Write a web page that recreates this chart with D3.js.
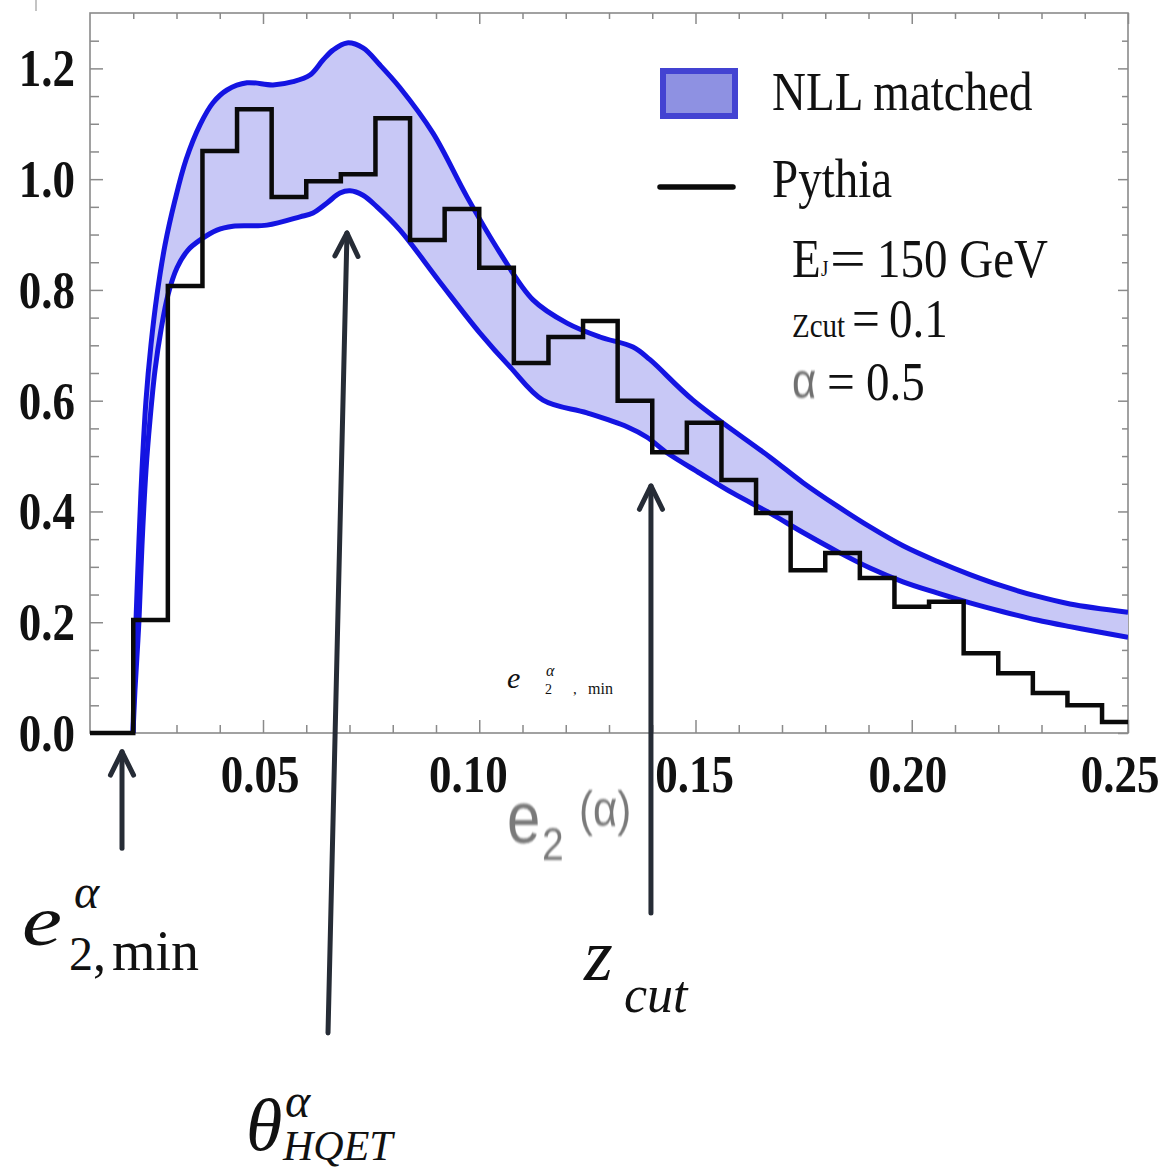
<!DOCTYPE html>
<html>
<head>
<meta charset="utf-8">
<script src="https://cdn.jsdelivr.net/npm/d3@7"></script>
<style>
  html, body { margin: 0; padding: 0; background: #ffffff; }
  svg { display: block; }
</style>
</head>
<body>
<svg id="chart" width="1169" height="1173"></svg>
<script>
// ---------------- DATA ----------------
// Pythia histogram: bin left edges and heights (last bin clipped at 0.25)
const binEdges = [0.020, 0.028, 0.036, 0.044, 0.052, 0.060, 0.068, 0.076, 0.084, 0.092,
                  0.100, 0.108, 0.116, 0.124, 0.132, 0.140, 0.148, 0.156, 0.164, 0.172,
                  0.180, 0.188, 0.196, 0.204, 0.212, 0.220, 0.228, 0.236, 0.244];
const pythia   = [0.204, 0.807, 1.051, 1.126, 0.968, 0.996, 1.009, 1.110, 0.890, 0.946,
                  0.840, 0.668, 0.715, 0.744, 0.600, 0.507, 0.560, 0.457, 0.397, 0.294,
                  0.325, 0.280, 0.228, 0.237, 0.144, 0.108, 0.072, 0.050, 0.020];

// NLL matched band: upper edge
const upperX = [0.01994, 0.02017, 0.02064, 0.02133, 0.02202, 0.02295, 0.0241, 0.02549, 0.02734,
                0.02965, 0.0322, 0.03543, 0.03844, 0.04168, 0.0463, 0.05231, 0.05694, 0.06087,
                0.06387, 0.06618, 0.06942, 0.07312, 0.07705, 0.08168, 0.0893, 0.09717, 0.1048,
                0.11243, 0.12029, 0.12792, 0.13555, 0.13948, 0.14942, 0.16723, 0.17486, 0.18272,
                0.19035, 0.19798, 0.20584, 0.21347, 0.2211, 0.22896, 0.23659, 0.25];
const upperY = [0.000, 0.078, 0.204, 0.349, 0.475, 0.601, 0.701, 0.791, 0.881,
                0.962, 1.035, 1.098, 1.138, 1.161, 1.174, 1.170, 1.176, 1.188,
                1.215, 1.233, 1.246, 1.237, 1.206, 1.165, 1.083, 0.968, 0.867,
                0.782, 0.740, 0.715, 0.697, 0.674, 0.601, 0.498, 0.452, 0.410,
                0.372, 0.338, 0.310, 0.286, 0.265, 0.247, 0.233, 0.218];
// NLL matched band: lower edge
const lowerX = [0.01994, 0.0204, 0.02133, 0.02202, 0.02295, 0.02387, 0.02503, 0.02642, 0.02803,
                0.03012, 0.03266, 0.03543, 0.03936, 0.04306, 0.05092, 0.05855, 0.06156, 0.0648,
                0.0678, 0.07012, 0.07312, 0.07636, 0.08168, 0.09092, 0.10017, 0.10711, 0.11474,
                0.12491, 0.13416, 0.13879, 0.14341, 0.15104, 0.15867, 0.16723, 0.17486, 0.18272,
                0.19035, 0.19798, 0.20584, 0.21347, 0.2211, 0.22896, 0.23659, 0.24422, 0.25];
const lowerY = [0.000, 0.078, 0.204, 0.339, 0.475, 0.565, 0.655, 0.728, 0.791,
                0.840, 0.872, 0.890, 0.908, 0.915, 0.917, 0.932, 0.939, 0.957,
                0.975, 0.979, 0.971, 0.950, 0.908, 0.814, 0.722, 0.661, 0.601,
                0.578, 0.553, 0.534, 0.506, 0.469, 0.433, 0.397, 0.362, 0.328,
                0.298, 0.273, 0.253, 0.235, 0.219, 0.204, 0.192, 0.181, 0.173];

// Axis ticks
const xMajorTicks = [0.05, 0.10, 0.15, 0.20, 0.25];
const xTickLabels = ["0.05", "0.10", "0.15", "0.20", "0.25"];
const xMinorTicks = [0.02, 0.03, 0.04, 0.06, 0.07, 0.08, 0.09, 0.11, 0.12, 0.13, 0.14,
                     0.16, 0.17, 0.18, 0.19, 0.21, 0.22, 0.23, 0.24];
const yMajorTicks = [0.0, 0.2, 0.4, 0.6, 0.8, 1.0, 1.2];
const yTickLabels = ["0.0", "0.2", "0.4", "0.6", "0.8", "1.0", "1.2"];
const yMinorTicks = [0.05, 0.10, 0.15, 0.25, 0.30, 0.35, 0.45, 0.50, 0.55, 0.65, 0.70, 0.75,
                     0.85, 0.90, 0.95, 1.05, 1.10, 1.15, 1.25];

// Annotation arrows (data coordinates: tail -> tip)
const arrowTailX = [0.0174, 0.06503, 0.1397];
const arrowTailY = [-0.208, -0.5417, -0.325];
const arrowTipX  = [0.0174, 0.06942, 0.1397];
const arrowTipY  = [-0.034, 0.9029, 0.446];

// ---------------- SETUP ----------------
const svg = d3.select("#chart");
const W = 1169, H = 1173;
const plot = { left: 90, right: 1128, top: 13, bottom: 733 };

svg.append("rect").attr("width", W).attr("height", H).attr("fill", "#ffffff");

const x = d3.scaleLinear().domain([0.01, 0.25]).range([plot.left, plot.right]);
const y = d3.scaleLinear().domain([0, 1.3]).range([plot.bottom, plot.top]);

const SERIF = "'Liberation Serif', 'Times New Roman', 'DejaVu Serif', serif";
const SANS = "'Liberation Sans', Arial, 'DejaVu Sans', sans-serif";
const STRETCH = 1.18;

const defs = svg.append("defs");
defs.append("filter").attr("id", "soft")
  .append("feGaussianBlur").attr("stdDeviation", 0.7);
defs.append("clipPath").attr("id", "plotclip")
  .append("rect").attr("x", plot.left).attr("y", plot.top)
  .attr("width", plot.right - plot.left).attr("height", plot.bottom - plot.top);

// text helper
function txt(g, str, px, py, opts) {
  const o = Object.assign({ size: 47, family: SERIF, weight: "normal", style: "normal",
    fill: "#111", anchor: "start", sx: 1, sy: 1 }, opts || {});
  return g.append("text")
    .attr("transform", `translate(${px},${py}) scale(${o.sx},${o.sy})`)
    .attr("font-family", o.family).attr("font-size", o.size)
    .attr("font-weight", o.weight).attr("font-style", o.style)
    .attr("fill", o.fill).attr("text-anchor", o.anchor)
    .attr("filter", o.filter || null)
    .text(str);
}

// ---------------- FRAME & TICKS ----------------
const frameColor = "#8a8a8a";
svg.append("rect")
  .attr("x", plot.left).attr("y", plot.top)
  .attr("width", plot.right - plot.left).attr("height", plot.bottom - plot.top)
  .attr("fill", "none").attr("stroke", frameColor).attr("stroke-width", 1.6);

function styleAxis(g) {
  g.select(".domain").remove();
  g.selectAll(".tick line").attr("stroke", frameColor).attr("stroke-width", 1.5);
  g.selectAll(".tick text").remove();
}
svg.append("g").attr("transform", `translate(0,${plot.bottom})`)
  .call(d3.axisBottom(x).tickValues(xMajorTicks).tickSize(-13).tickFormat("")).call(styleAxis);
svg.append("g").attr("transform", `translate(0,${plot.bottom})`)
  .call(d3.axisBottom(x).tickValues(xMinorTicks).tickSize(-8).tickFormat("")).call(styleAxis);
svg.append("g").attr("transform", `translate(0,${plot.top})`)
  .call(d3.axisTop(x).tickValues(xMajorTicks).tickSize(-11).tickFormat("")).call(styleAxis);
svg.append("g").attr("transform", `translate(0,${plot.top})`)
  .call(d3.axisTop(x).tickValues(xMinorTicks).tickSize(-6).tickFormat("")).call(styleAxis);
svg.append("g").attr("transform", `translate(${plot.left},0)`)
  .call(d3.axisLeft(y).tickValues(yMajorTicks).tickSize(-13).tickFormat("")).call(styleAxis);
svg.append("g").attr("transform", `translate(${plot.left},0)`)
  .call(d3.axisLeft(y).tickValues(yMinorTicks).tickSize(-9).tickFormat("")).call(styleAxis);
svg.append("g").attr("transform", `translate(${plot.right},0)`)
  .call(d3.axisRight(y).tickValues(yMajorTicks).tickSize(-10).tickFormat("")).call(styleAxis);
svg.append("g").attr("transform", `translate(${plot.right},0)`)
  .call(d3.axisRight(y).tickValues(yMinorTicks).tickSize(-6).tickFormat("")).call(styleAxis);

// small stray mark at the very top-left of the original picture
svg.append("line").attr("x1", 36).attr("x2", 36).attr("y1", 0).attr("y2", 11)
  .attr("stroke", "#b0b0b0").attr("stroke-width", 1.5);

// tick labels (bold serif, slightly stretched vertically)
const tickLabelG = svg.append("g");
const xLabelShift = [-3, -11, -1, -4, -8];
xMajorTicks.forEach((v, i) => {
  txt(tickLabelG, xTickLabels[i], x(v) + xLabelShift[i], 792,
      { size: 45, weight: "bold", anchor: "middle", sy: STRETCH });
});
yMajorTicks.forEach((v, i) => {
  txt(tickLabelG, yTickLabels[i], 75, y(v) + 18,
      { size: 45, weight: "bold", anchor: "end", sy: STRETCH });
});

// ---------------- BAND ----------------
const upperPts = upperX.map((v, i) => [x(v), y(upperY[i])]);
const lowerPts = lowerX.map((v, i) => [x(v), y(lowerY[i])]);
const smooth = d3.line().curve(d3.curveCatmullRom.alpha(0.5));
const lowerRev = lowerPts.slice().reverse();
const bandPath = smooth(upperPts) + "L" + smooth(lowerRev).slice(1) + "Z";

const bandG = svg.append("g").attr("clip-path", "url(#plotclip)");
bandG.append("path").attr("d", bandPath).attr("fill", "#c8c8f6").attr("stroke", "none");
bandG.append("path").attr("d", smooth(upperPts)).attr("fill", "none")
  .attr("stroke", "#1414e2").attr("stroke-width", 5).attr("stroke-linejoin", "round");
bandG.append("path").attr("d", smooth(lowerPts)).attr("fill", "none")
  .attr("stroke", "#1414e2").attr("stroke-width", 5).attr("stroke-linejoin", "round");

// ---------------- HISTOGRAM ----------------
const histPts = [[x(0.01), y(0)]]
  .concat(binEdges.map((e, i) => [x(e), y(pythia[i])]))
  .concat([[x(0.25), y(pythia[pythia.length - 1])]]);
const stepLine = d3.line().curve(d3.curveStepAfter);
svg.append("path").attr("d", stepLine(histPts)).attr("fill", "none")
  .attr("stroke", "#0a0a0a").attr("stroke-width", 4.5).attr("stroke-linejoin", "miter");

// ---------------- LEGEND ----------------
const leg = svg.append("g");
leg.append("rect").attr("x", 663).attr("y", 71).attr("width", 72).attr("height", 45)
  .attr("fill", "#8e91e2").attr("stroke", "#4343d2").attr("stroke-width", 6);
txt(leg, "NLL matched", 772, 110, { size: 47, sy: STRETCH });
leg.append("line").attr("x1", 660).attr("x2", 733).attr("y1", 187).attr("y2", 187)
  .attr("stroke", "#0a0a0a").attr("stroke-width", 5.5).attr("stroke-linecap", "round");
txt(leg, "Pythia", 772, 197, { size: 47, sy: STRETCH });

// parameters
txt(leg, "E", 792, 277, { size: 47, sy: STRETCH });
txt(leg, "J", 821, 276, { size: 19, sy: STRETCH });
txt(leg, "=", 830, 277, { size: 47, sx: 1.35, sy: STRETCH });
txt(leg, "150 GeV", 877, 277, { size: 47, sy: STRETCH });

txt(leg, "Zcut", 792, 337, { size: 29, sy: STRETCH });
txt(leg, "=", 852, 337, { size: 47, sx: 1.05, sy: STRETCH });
txt(leg, "0.1", 889, 337, { size: 47, sy: STRETCH });

txt(leg, "α", 792, 398, { size: 42, family: SANS, fill: "#6f6f6f", sy: STRETCH, filter: "url(#soft)" });
txt(leg, "=", 827, 400, { size: 47, sx: 1.05, sy: STRETCH });
txt(leg, "0.5", 866, 400, { size: 47, sy: STRETCH });

// ---------------- AXIS TITLE ----------------
const axT = svg.append("g");
txt(axT, "e", 507, 843, { size: 60, family: SANS, fill: "#7a7a7a", sy: 1.24, filter: "url(#soft)" });
txt(axT, "2", 542, 860, { size: 39, family: SANS, fill: "#7a7a7a", sy: STRETCH, filter: "url(#soft)" });
txt(axT, "(α)", 579, 826, { size: 42, family: SANS, fill: "#7a7a7a", sy: STRETCH, filter: "url(#soft)" });

// small in-plot label
const small = svg.append("g");
txt(small, "e", 507, 688, { size: 30, style: "italic" });
txt(small, "α", 546, 676, { size: 16, style: "italic" });
txt(small, "2", 545, 694, { size: 14 });
txt(small, ",", 573, 694, { size: 15 });
txt(small, "min", 588, 694, { size: 16 });

// ---------------- ANNOTATION ARROWS ----------------
const arrowColor = "#262c36";
const arrG = svg.append("g").attr("stroke", arrowColor).attr("stroke-width", 5)
  .attr("stroke-linecap", "round").attr("stroke-linejoin", "round").attr("fill", "none");
arrowTipX.forEach((tx, i) => {
  const x1 = x(arrowTailX[i]), y1 = y(arrowTailY[i]);
  const x2 = x(tx), y2 = y(arrowTipY[i]);
  arrG.append("line").attr("x1", x1).attr("y1", y1).attr("x2", x2).attr("y2", y2);
  const ang = Math.atan2(y2 - y1, x2 - x1);
  const len = 26, spread = 0.46;
  const a1 = [x2 - len * Math.cos(ang - spread), y2 - len * Math.sin(ang - spread)];
  const a2 = [x2 - len * Math.cos(ang + spread), y2 - len * Math.sin(ang + spread)];
  arrG.append("path").attr("d", `M${a1[0]},${a1[1]}L${x2},${y2}L${a2[0]},${a2[1]}`);
});

// ---------------- ANNOTATION LABELS ----------------
const ann = svg.append("g");
// e_{2,min}^alpha
txt(ann, "e", 22, 945, { size: 72, style: "italic", sx: 1.25 });
txt(ann, "α", 74, 908, { size: 48, style: "italic" });
txt(ann, "2", 69, 970, { size: 48 });
txt(ann, ",", 93, 970, { size: 52 });
txt(ann, "min", 112, 970, { size: 56 });
// theta_HQET^alpha
txt(ann, "θ", 246, 1150, { size: 74, style: "italic" });
txt(ann, "α", 285, 1117, { size: 48, style: "italic" });
txt(ann, "HQET", 283, 1160, { size: 42, style: "italic" });
// z_cut
txt(ann, "z", 584, 980, { size: 74, style: "italic" });
txt(ann, "cut", 624, 1012, { size: 52, style: "italic" });
</script>
</body>
</html>
